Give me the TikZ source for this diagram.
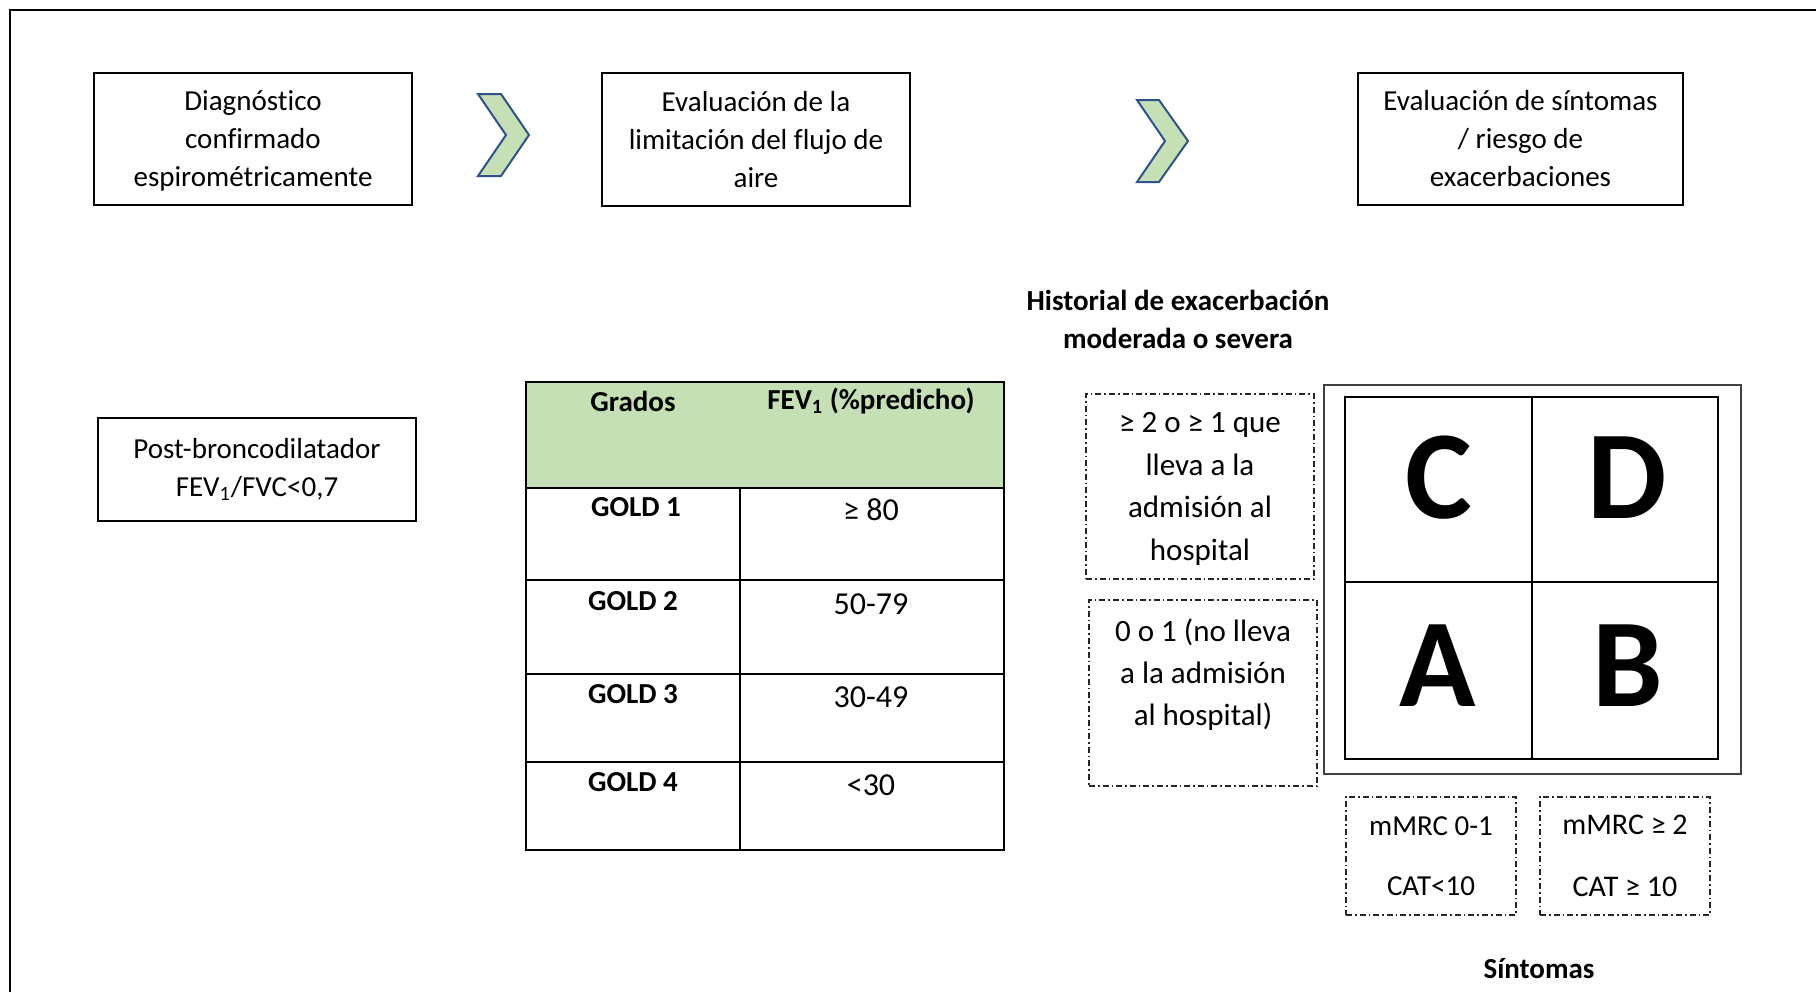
\documentclass[tikz,border=0pt]{standalone}
\usepackage{fontspec}
\setmainfont{Carlito}[Ligatures=NoCommon]
\usepackage{xcolor}
\usepackage{tikz}
\usetikzlibrary{calc}
\definecolor{gradegreen}{HTML}{C5E0B4}
\definecolor{chevblue}{HTML}{2F528F}
\tikzset{
    stepbox/.style={draw, line width=0.6pt, align=center, inner sep=0pt,
        font=\fontsize{14.5}{19}\selectfont},
    dashbox/.style={draw=black!85, line width=0.6pt,
        dash pattern=on 3pt off 1.5pt on 0.8pt off 1.5pt, align=center, inner sep=0pt},
    chevron/.style={draw=chevblue, fill=gradegreen, line width=1pt, line join=miter},
    cell/.style={font=\fontsize{14.5}{19}\selectfont\bfseries},
    value/.style={font=\fontsize{16}{19}\selectfont},
    letter/.style={font=\fontsize{63}{63}\selectfont\bfseries}
}

\begin{document}
\begin{tikzpicture}[x=0.5pt, y=-0.5pt]
        \useasboundingbox (0,0) rectangle (1816,992);
        \draw[line width=1.2pt] (10,992) -- (10,10) -- (1816,10);

        % steps
        \draw (253,139) node[stepbox, minimum width=159pt, minimum height=66pt, text depth=0pt](diag){Diagnóstico\\confirmado\\espirométricamente};
        \draw (756,139.5) node[stepbox, minimum width=154pt, minimum height=66.5pt](flujo){Evaluación de la\\limitación del flujo de\\aire};
        \draw (1520.5,139) node[stepbox, minimum width=162.5pt, minimum height=66pt](sint){Evaluación de síntomas\\/ riesgo de\\exacerbaciones};

        \draw[chevron] (478,94) -- (501,94) -- (529,135) -- (501,176) -- (478,176) -- (506,135) -- cycle;
        \draw[chevron] (1137,100) -- (1159,100) -- (1188,141) -- (1159,182) -- (1137,182) -- (1165,141) -- cycle;

        \draw (257,469.5) node[stepbox, minimum width=159pt, minimum height=51.5pt](post){Post-broncodilatador\\FEV\textsubscript{1}/FVC<0,7};

        % table of grades
        \fill[gradegreen] (526,382) rectangle (1004,488);
        \draw[line width=1pt] (526,382) rectangle (1004,850);
        \draw[line width=1pt] (526,488) -- (1004,488);
        \draw[line width=1pt] (526,580) -- (1004,580);
        \draw[line width=1pt] (526,674) -- (1004,674);
        \draw[line width=1pt] (526,762) -- (1004,762);
        \draw[line width=1pt] (740,488) -- (740,850);

        \draw (633,401) node[cell](grados){Grados};
        \draw (871,401) node[cell](fev){FEV\textsubscript{1} (\%predicho)};
        \draw (636,507) node[cell](g1){GOLD 1};
        \draw (633,601) node[cell](g2){GOLD 2};
        \draw (633,694) node[cell](g3){GOLD 3};
        \draw (633,782) node[cell](g4){GOLD 4};
        \draw (871,510) node[value](v1){≥ 80};
        \draw (871,604) node[value](v2){50-79};
        \draw (871,697) node[value](v3){30-49};
        \draw (871,785) node[value](v4){<30};

        % ABCD
        \draw (1178,319) node[align=center, font=\fontsize{14.5}{19}\selectfont\bfseries](hist){Historial de exacerbación\\moderada o severa};
        \draw (1200,486.5) node[dashbox, minimum width=114pt, minimum height=92.5pt, text depth=0pt, font=\fontsize{15.5}{21.2}\selectfont](alto){≥ 2 o ≥ 1 que\\lleva a la\\admisión al\\hospital};
        \draw (1203,693) node[dashbox, minimum width=114pt, minimum height=93pt, font=\fontsize{15.5}{21}\selectfont](bajo){0 o 1 (no lleva\\a la admisión\\al hospital)\\~};

        \draw[draw=black!75, line width=0.6pt] (1324,385) rectangle (1741,774);
        \draw[line width=1.1pt] (1345,397) rectangle (1718,759);
        \draw[line width=1.1pt] (1532,397) -- (1532,759);
        \draw[line width=1.1pt] (1345,582) -- (1718,582);

        \draw (1439,478) node[letter](c){C};
        \draw (1627,478) node[letter](d){D};
        \draw (1438,666) node[letter](a){A};
        \draw (1628,666) node[letter](b){B};

        \draw (1431,856) node[dashbox, minimum width=85pt, minimum height=59pt, font=\fontsize{14.5}{19}\selectfont](mmrc0){mMRC 0-1\\[11pt]CAT<10};
        \draw (1625,856) node[dashbox, minimum width=85pt, minimum height=59pt, text depth=-3pt, font=\fontsize{15}{19}\selectfont](mmrc2){mMRC ≥ 2\\[12pt]CAT ≥ 10};

        \draw (1539,969) node[font=\fontsize{14.5}{19}\selectfont\bfseries](sintomas){Síntomas};
    \end{tikzpicture}
\end{document}
